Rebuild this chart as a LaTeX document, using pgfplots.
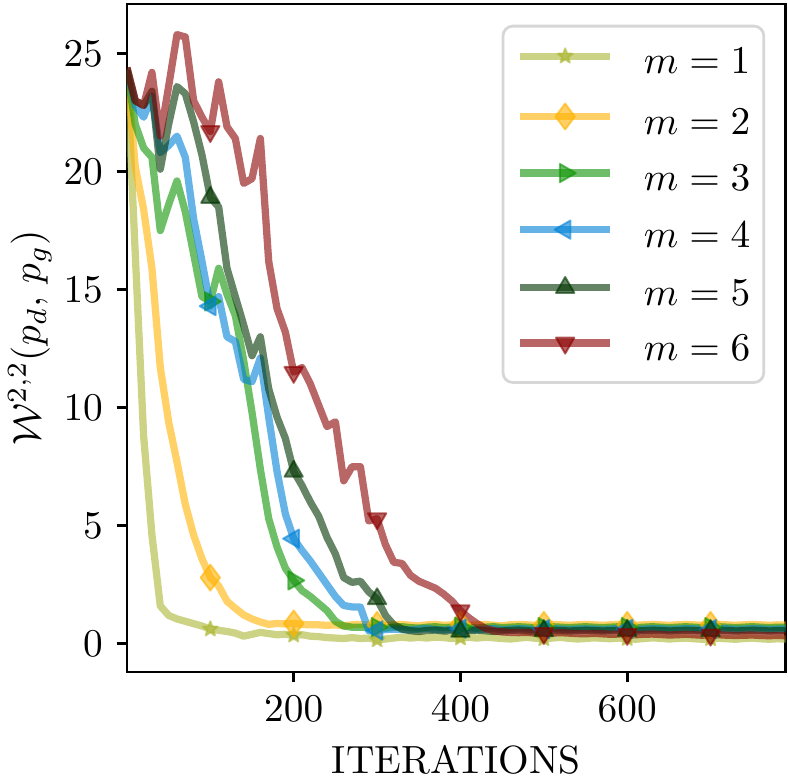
\documentclass[border=0pt]{standalone}
\usepackage{pgfplots}
\usepackage{pgfplotstable}
\pgfplotsset{compat=1.18}
\usetikzlibrary{plotmarks}

\definecolor{c1}{RGB}{172,182,50}
\definecolor{c2}{RGB}{255,178,0}
\definecolor{c3}{RGB}{15,148,5}
\definecolor{c4}{RGB}{0,130,215}
\definecolor{c5}{RGB}{0,52,0}
\definecolor{c6}{RGB}{139,0,0}

\pgfdeclareplotmark{fstar}{%
  \pgfpathmoveto{\pgfpointpolar{90}{\pgfplotmarksize}}%
  \pgfpathlineto{\pgfpointpolar{126}{0.42\pgfplotmarksize}}%
  \pgfpathlineto{\pgfpointpolar{162}{\pgfplotmarksize}}%
  \pgfpathlineto{\pgfpointpolar{198}{0.42\pgfplotmarksize}}%
  \pgfpathlineto{\pgfpointpolar{234}{\pgfplotmarksize}}%
  \pgfpathlineto{\pgfpointpolar{270}{0.42\pgfplotmarksize}}%
  \pgfpathlineto{\pgfpointpolar{306}{\pgfplotmarksize}}%
  \pgfpathlineto{\pgfpointpolar{342}{0.42\pgfplotmarksize}}%
  \pgfpathlineto{\pgfpointpolar{18}{\pgfplotmarksize}}%
  \pgfpathlineto{\pgfpointpolar{54}{0.42\pgfplotmarksize}}%
  \pgfpathclose
  \pgfusepathqfillstroke
}

\pgfplotstableread{
x m1 m2 m3 m4 m5 m6
0 24.3 24.3 24.3 24.3 24.4 24.4
10 16.5 20.2 22.0 22.8 23.0 23.0
20 8.8 18.4 21.0 22.3 22.8 22.8
30 4.6 15.9 20.6 23.2 23.4 24.2
40 1.6 11.7 17.5 20.8 20.1 21.5
50 1.2 9.4 18.6 21.1 22.0 23.6
60 1.05 7.7 19.6 21.5 23.6 25.8
70 0.95 5.9 18.3 20.6 23.3 25.7
80 0.85 4.6 16.5 18.0 22.1 23.0
90 0.75 3.6 14.7 16.2 20.7 22.3
100 0.62 2.8 14.5 14.3 18.9 21.7
110 0.57 2.45 15.9 14.7 18.5 23.8
120 0.52 1.8 14.8 13.0 15.9 21.9
130 0.45 1.5 13.9 12.8 14.7 21.4
140 0.32 1.22 12.0 11.2 13.5 19.5
150 0.40 1.05 9.8 11.1 12.2 19.7
160 0.48 0.92 7.4 12.1 13.0 21.4
170 0.43 0.82 5.3 9.6 10.8 16.2
180 0.38 0.86 4.1 7.3 9.6 14.2
190 0.40 0.84 3.2 5.5 8.7 13.2
200 0.36 0.86 2.68 4.45 7.3 11.5
210 0.38 0.82 2.25 3.95 6.7 11.7
220 0.32 0.80 2.0 3.5 6.0 11.0
230 0.30 0.80 1.7 3.0 5.4 10.1
240 0.26 0.78 1.4 2.5 4.5 9.2
250 0.24 0.80 0.95 2.0 3.8 9.4
260 0.22 0.76 0.75 1.62 2.8 6.9
270 0.26 0.80 0.70 1.56 2.6 7.5
280 0.22 0.82 0.70 1.55 2.65 7.5
290 0.24 0.78 0.68 0.55 2.2 5.2
300 0.16 0.80 0.70 0.56 1.9 5.3
310 0.20 0.78 0.66 0.60 1.2 4.2
320 0.24 0.80 0.70 0.62 0.80 3.45
330 0.28 0.82 0.72 0.60 0.62 3.4
340 0.24 0.78 0.68 0.58 0.55 2.9
350 0.27 0.76 0.66 0.62 0.52 2.65
360 0.24 0.80 0.70 0.64 0.56 2.5
370 0.28 0.82 0.72 0.60 0.58 2.35
380 0.26 0.78 0.68 0.58 0.54 2.1
390 0.22 0.80 0.70 0.62 0.55 1.8
400 0.24 0.82 0.72 0.64 0.52 1.4
410 0.27 0.78 0.68 0.60 0.56 1.1
420 0.24 0.80 0.66 0.58 0.58 0.85
430 0.28 0.82 0.70 0.62 0.55 0.65
440 0.25 0.78 0.72 0.64 0.52 0.55
450 0.22 0.76 0.68 0.60 0.54 0.50
460 0.20 0.80 0.70 0.62 0.56 0.48
470 0.24 0.82 0.72 0.64 0.58 0.47
480 0.27 0.80 0.70 0.62 0.55 0.48
490 0.23 0.78 0.68 0.60 0.53 0.45
500 0.21 0.80 0.70 0.62 0.55 0.44
510 0.24 0.82 0.72 0.64 0.57 0.45
520 0.27 0.80 0.70 0.62 0.56 0.47
530 0.23 0.78 0.68 0.60 0.54 0.45
540 0.20 0.80 0.70 0.62 0.55 0.43
550 0.22 0.82 0.72 0.63 0.57 0.42
560 0.25 0.80 0.70 0.62 0.56 0.44
570 0.23 0.78 0.68 0.60 0.54 0.42
580 0.21 0.80 0.70 0.62 0.55 0.40
590 0.24 0.82 0.72 0.64 0.57 0.41
600 0.22 0.80 0.70 0.63 0.56 0.40
610 0.19 0.78 0.68 0.61 0.54 0.38
620 0.22 0.80 0.70 0.62 0.55 0.40
630 0.25 0.82 0.72 0.64 0.57 0.41
640 0.23 0.80 0.70 0.63 0.56 0.39
650 0.20 0.78 0.68 0.61 0.54 0.37
660 0.22 0.80 0.70 0.62 0.55 0.38
670 0.24 0.82 0.72 0.64 0.57 0.40
680 0.21 0.80 0.70 0.63 0.56 0.38
690 0.19 0.78 0.68 0.61 0.54 0.36
700 0.21 0.80 0.70 0.62 0.55 0.37
710 0.23 0.82 0.72 0.64 0.57 0.38
720 0.21 0.80 0.70 0.63 0.56 0.36
730 0.19 0.78 0.68 0.61 0.54 0.35
740 0.22 0.80 0.70 0.62 0.55 0.36
750 0.24 0.82 0.72 0.64 0.57 0.37
760 0.21 0.80 0.70 0.63 0.56 0.35
770 0.19 0.78 0.68 0.61 0.54 0.34
780 0.21 0.80 0.70 0.62 0.55 0.35
790 0.20 0.79 0.69 0.62 0.55 0.34
}\datatable

\begin{document}
\begin{tikzpicture}
\begin{axis}[
  scale only axis,
  width=167.6pt, height=170pt,
  xmin=0, xmax=790,
  ymin=-1.2, ymax=27.1,
  xtick={200,400,600},
  ytick={0,5,10,15,20,25},
  tick pos=left,
  tick align=outside,
  major tick length=2.6pt,
  tick style={black, line width=0.7pt},
  axis line style={black, line width=0.7pt},
  xlabel={ITERATIONS},
  ylabel={$\mathcal{W}^{2,2}(p_d,\, p_g)$},
  xlabel style={at={(axis description cs:0.5,-0.131)}, anchor=center},
  ylabel style={at={(axis description cs:-0.1474,0.5)}, anchor=center},
  legend cell align=left,
  legend image code/.code={%
    \draw[mark repeat=2, mark phase=2] plot coordinates {(0pt,1.2pt) (11.5pt,1.2pt) (23pt,1.2pt)};},
  legend style={at={(axis description cs:1,1)}, anchor=north east,
    xshift=-5.2pt, yshift=-5.3pt,
    draw=black!16, line width=0.7pt, rounded corners=2.5pt,
    fill=white, fill opacity=0.8, text opacity=1,
    inner xsep=3.4pt, inner ysep=5.6pt,
    row sep=7.6pt, column sep=7.6pt,
    nodes={inner sep=0pt, text height=6.5pt, text depth=0pt}},
  every axis plot/.append style={line width=1.85pt, line join=round, opacity=0.6,
    mark repeat=10, mark phase=11},
]
\addplot[c1, mark=fstar, mark size=2pt,
  mark options={solid, fill=c1, draw=c1, line width=0.5pt}] table[x=x, y=m1] {\datatable};
\addlegendentry{$m=1$}
\addplot[c2, mark=diamond*, mark size=3.3pt,
  mark options={solid, fill=c2, draw=c2, line width=0.5pt}] table[x=x, y=m2] {\datatable};
\addlegendentry{$m=2$}
\addplot[c3, mark=triangle*, mark size=2.7pt,
  mark options={solid, rotate=-90, fill=c3, draw=c3, line width=0.5pt}] table[x=x, y=m3] {\datatable};
\addlegendentry{$m=3$}
\addplot[c4, mark=triangle*, mark size=2.7pt,
  mark options={solid, rotate=90, fill=c4, draw=c4, line width=0.5pt}] table[x=x, y=m4] {\datatable};
\addlegendentry{$m=4$}
\addplot[c5, mark=triangle*, mark size=2.7pt,
  mark options={solid, fill=c5, draw=c5, line width=0.5pt}] table[x=x, y=m5] {\datatable};
\addlegendentry{$m=5$}
\addplot[c6, mark=triangle*, mark size=2.7pt,
  mark options={solid, rotate=180, fill=c6, draw=c6, line width=0.5pt}] table[x=x, y=m6] {\datatable};
\addlegendentry{$m=6$}
\coordinate (SW) at (rel axis cs:0,0);
\end{axis}
\pgfresetboundingbox
\path[use as bounding box] (SW) ++(-32.3pt,-27.2pt) rectangle ++(200.5pt,198.2pt);
\end{tikzpicture}
\end{document}
